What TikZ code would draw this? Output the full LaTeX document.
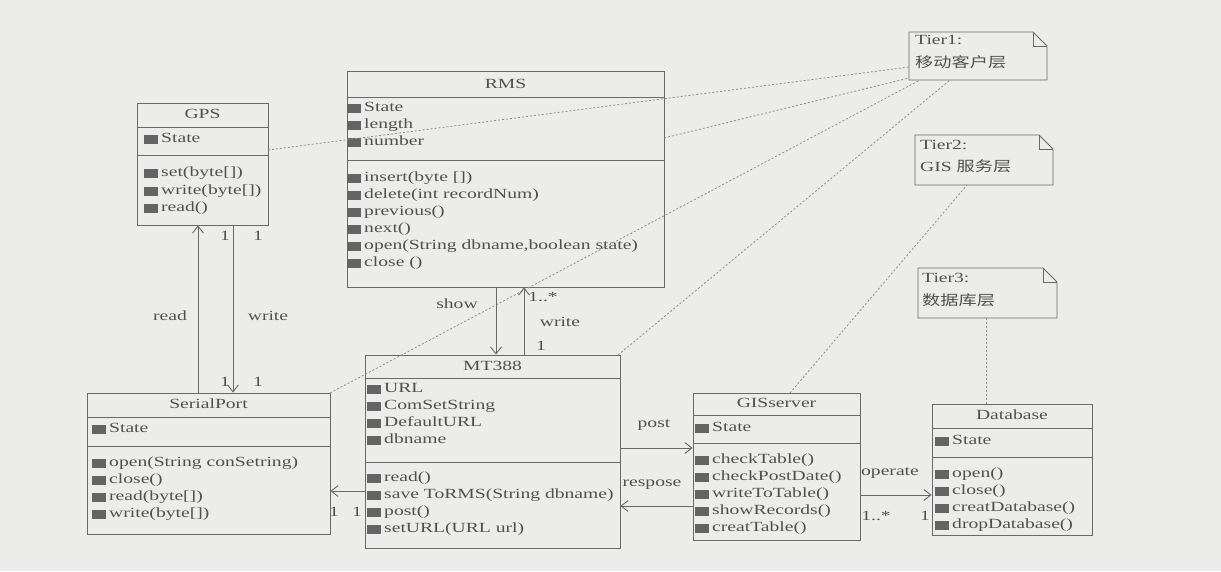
\documentclass[tikz,border=0pt]{standalone}
\usepackage{fontspec}
\setmainfont{Liberation Serif}[FakeStretch=1.4]
\newfontfamily\cjk{Noto Sans CJK SC}[FakeStretch=1.3]
\usetikzlibrary{arrows.meta,calc,fit}
\definecolor{bgc}{RGB}{236,236,234}
\definecolor{lnc}{RGB}{105,105,105}
\definecolor{txc}{RGB}{80,80,80}
\definecolor{icc}{RGB}{100,100,100}
\definecolor{dlc}{RGB}{140,140,140}
\newcommand\fs{\fontsize{14}{16}\selectfont}
\tikzset{
  boxc/.style={draw=lnc, line width=0.9pt, inner sep=0pt},
  sepl/.style={draw=lnc, line width=0.9pt},
  rowtext/.style={font=\fs, text=txc, inner sep=0pt, anchor=west, text height=9.5pt, text depth=2.5pt},
  lbl/.style={font=\fs, text=txc, inner sep=0pt, text height=9.5pt, text depth=2.5pt},
  assoc/.style={draw=lnc, line width=0.9pt, -{Straight Barb[length=7pt,width=11pt]}},
  link/.style={draw=dlc, line width=0.8pt, dash pattern=on 2pt off 2pt},
}
% #1 name, #2 x1, #3 y1, #4 x2, #5 y2, #6 sep1, #7 sep2, #8 title y, #9 title
\newcommand\umlclass[9]{%
  \node[boxc, fit={(#2,#3) (#4,#5)}] (#1) {};
  \draw[sepl] (#2,#6) -- (#4,#6) (#2,#7) -- (#4,#7);
  \node[lbl] (#1T) at ({(#2+#4)/2},#8) {#9};
}
% #1 name prefix, #2 text x, #3 list y/text
\newcommand\umlrows[3]{%
  \foreach \yy/\txt [count=\i] in {#3} {
    \fill[icc] (#2-17,\yy-4.5) rectangle (#2-3,\yy+4.5);
    \node[rowtext] (#1\i) at (#2,\yy) {\txt};
  }
}
\newcommand\umlnote[5]{% name x1 y1 x2 y2
  \node[inner sep=0pt, fit={(#2,#3) (#4,#5)}] (#1) {};
  \draw[sepl] (#2,#3) -- (#4-14,#3) -- (#4,#3+14) -- (#4,#5) -- (#2,#5) -- cycle;
  \draw[sepl] (#4-14,#3) -- (#4-14,#3+14) -- (#4,#3+14);
}
\begin{document}
\begin{tikzpicture}[x=1pt,y=-1pt]
\fill[bgc] (0,0) rectangle (1221,571);
\useasboundingbox (0,0) rectangle (1221,571);

% classes
\umlclass{gps}{137}{103}{268}{225}{127}{155}{115}{GPS}
\umlrows{gpsA}{161}{139/State}
\umlrows{gpsM}{161}{173/{set(byte[])},191/{write(byte[])},208/{read()}}

\umlclass{rms}{347}{71}{664}{287}{97}{160}{85}{RMS}
\umlrows{rmsA}{364}{108/State,125/length,142/number}
\umlrows{rmsM}{364}{178/{insert(byte [])},195/{delete(int recordNum)},212/{previous()},229/{next()},246/{open(String dbname,boolean state)},263/{close ()}}

\umlclass{mt}{365}{355}{620}{548}{378}{462}{367}{MT388}
\umlrows{mtA}{384}{389/URL,406/ComSetString,423/DefaultURL,440/dbname}
\umlrows{mtM}{384}{478/{read()},495/{save ToRMS(String dbname)},512/{post()},529/{setURL(URL url)}}

\umlclass{serial}{87}{393}{330}{534}{417}{446}{405}{SerialPort}
\umlrows{serA}{109}{429/State}
\umlrows{serM}{109}{463/{open(String conSetring)},480/{close()},497/{read(byte[])},514/{write(byte[])}}

\umlclass{gis}{693}{393}{860}{540}{415}{443}{404}{GISserver}
\umlrows{gisA}{712}{428/State}
\umlrows{gisM}{712}{460/{checkTable()},477/{checkPostDate()},494/{writeToTable()},511/{showRecords()},528/{creatTable()}}

\umlclass{db}{932}{404}{1092}{535}{428}{457}{416}{Database}
\umlrows{dbA}{952}{441/State}
\umlrows{dbM}{952}{474/{open()},491/{close()},508/{creatDatabase()},525/{dropDatabase()}}

% notes
\umlnote{n1}{909}{32}{1047}{80}
\node[rowtext] (n1a) at (915,41) {Tier1:};
\node[rowtext] (n1b) at (915,64) {\cjk 移动客户层};
\umlnote{n2}{915}{135}{1053}{185}
\node[rowtext] (n2a) at (920,146) {Tier2:};
\node[rowtext] (n2b) at (920,168) {GIS \cjk 服务层};
\umlnote{n3}{918}{268}{1057}{318}
\node[rowtext] (n3a) at (922,279) {Tier3:};
\node[rowtext] (n3b) at (922,302) {\cjk 数据库层};

% note links
\coordinate (p1) at (268,150); \coordinate (q1) at (909,67);
\coordinate (p2) at (664,138); \coordinate (q2) at (909,78);
\coordinate (p3) at (330,393); \coordinate (q3) at (920,80);
\coordinate (p4) at (618,355); \coordinate (q4) at (950,80);
\coordinate (p5) at (790,393); \coordinate (q5) at (967,185);
\coordinate (p6) at (986,404); \coordinate (q6) at (986,318);
\foreach \k in {1,...,6} {\draw[link] (p\k) -- (q\k);}

% associations
\coordinate (xread) at (198,0);
\coordinate (xwrite) at (233,0);
\coordinate (xshow) at (496,0);
\coordinate (xw2) at (524,0);
\coordinate (yser) at (0,491);
\coordinate (ypost) at (0,448);
\coordinate (yresp) at (0,506);
\coordinate (yop) at (0,495);
\draw[assoc] (serial.north -| xread) -- (gps.south -| xread);
\draw[assoc] (gps.south -| xwrite) -- (serial.north -| xwrite);
\draw[assoc] (rms.south -| xshow) -- (mt.north -| xshow);
\draw[assoc] (mt.north -| xw2) -- (rms.south -| xw2);
\draw[assoc] (mt.west |- yser) -- (serial.east |- yser);
\draw[assoc] (mt.east |- ypost) -- (gis.west |- ypost);
\draw[assoc] (gis.west |- yresp) -- (mt.east |- yresp);
\draw[assoc] (gis.east |- yop) -- (db.west |- yop);

% labels
\node[lbl] (Lread) at (170,317) {read};
\node[lbl] (Lwrite) at (268,317) {write};
\node[lbl] (m1) at (225,237) {1};
\node[lbl] (m2) at (258,237) {1};
\node[lbl] (m3) at (225,383) {1};
\node[lbl] (m4) at (258,383) {1};
\node[lbl] (Lshow) at (457,305) {show};
\node[lbl] (m5) at (543,298) {1..*};
\node[lbl] (Lwrite2) at (560,323) {write};
\node[lbl] (m6) at (541,347) {1};
\node[lbl] (m7) at (334,513) {1};
\node[lbl] (m8) at (357,513) {1};
\node[lbl] (Lpost) at (654,424) {post};
\node[lbl] (Lresp) at (652,483) {respose};
\node[lbl] (Lop) at (890,472) {operate};
\node[lbl] (m9) at (876,517) {1..*};
\node[lbl] (m10) at (925,517) {1};
\end{tikzpicture}
\end{document}
